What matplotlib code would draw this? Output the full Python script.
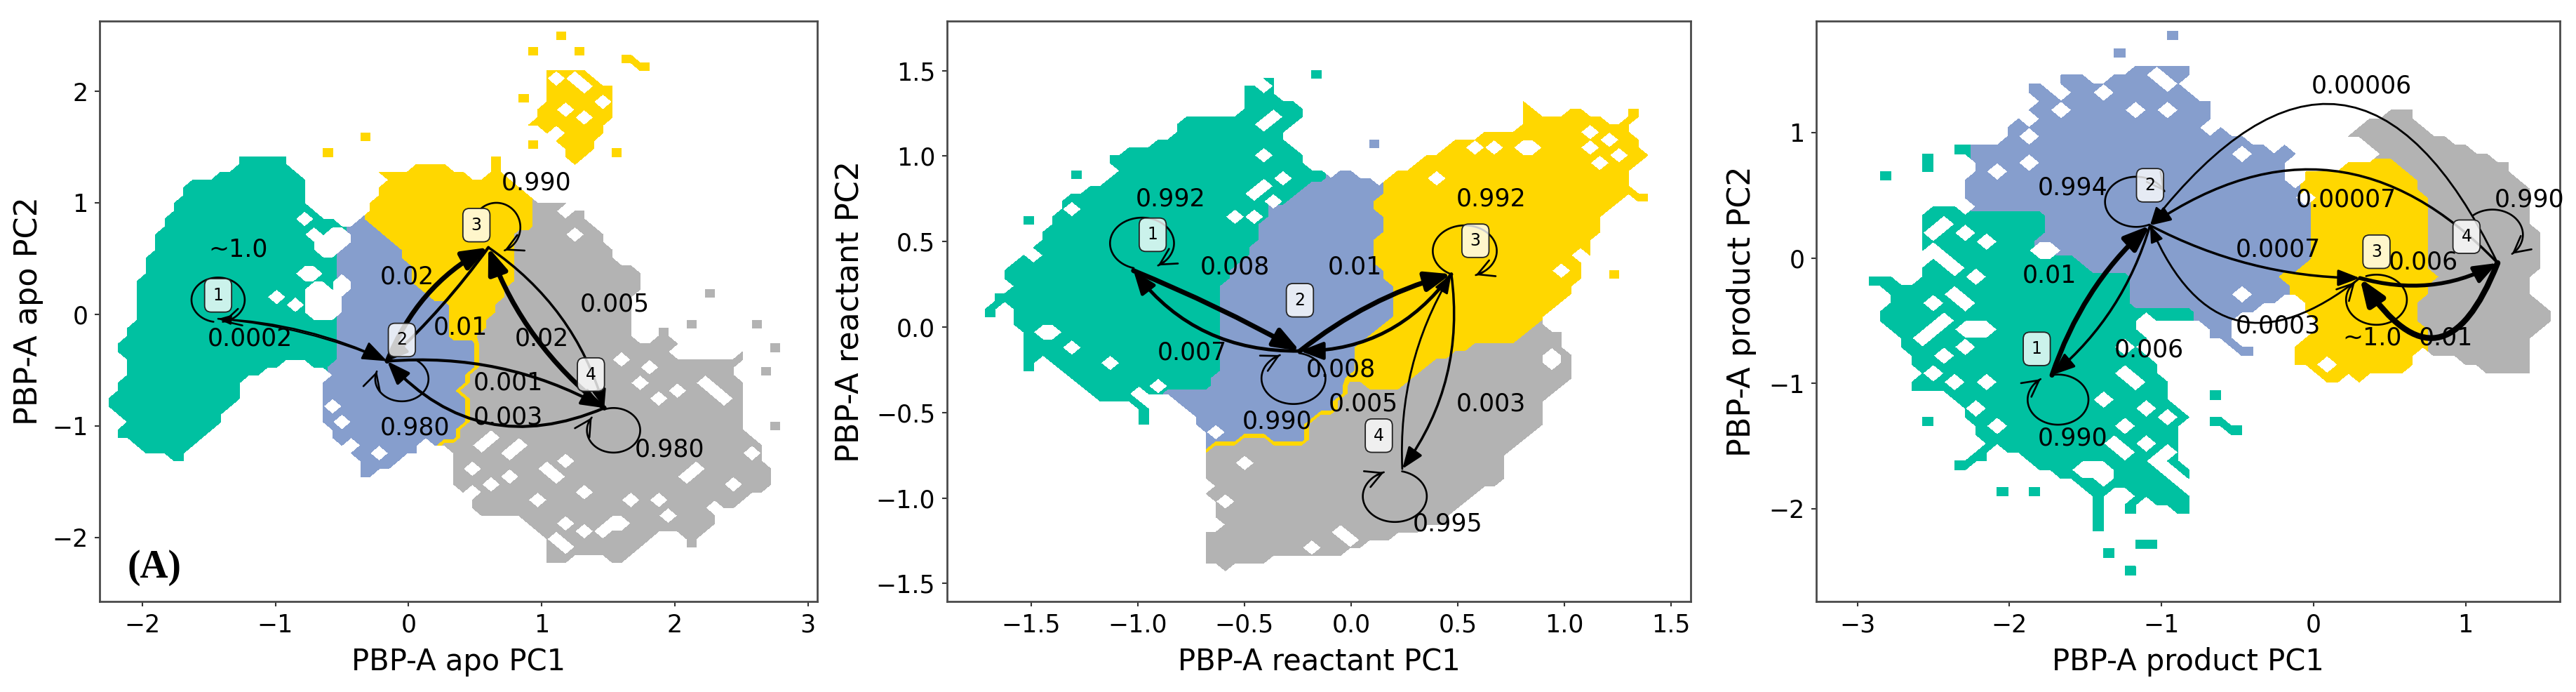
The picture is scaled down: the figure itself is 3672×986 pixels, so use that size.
import numpy as np
import matplotlib
matplotlib.use("Agg")
import matplotlib.pyplot as plt
from matplotlib.path import Path
from matplotlib.patches import FancyArrowPatch

W, H = 3673, 986
STATE_COLORS = ['#00c1a1', '#869ecd', '#ffd700', '#b3b3b3']
TOP, BOTTOM = 30, 857

# ---------- Panel A (apo) ----------
A_green = [(-1.71,-1.41),(-1.85,-1.29),(-2.08,-1.29),(-2.24,-1.14),(-2.16,-.98),(-2.27,-.8),(-2.16,-.5),(-2.2,-.23),(-2.1,-.07),(-2.06,.24),(-1.96,.6),(-1.85,.84),(-1.65,1.21),(-1.37,1.29),(-1.39,1.41),(-1.09,1.43),(-.91,1.45),(-.85,1.29),(-.73,1.15),(-.71,.95),(-.48,.84),(-.56,.55),(-.54,.3),(-.54,-.47),(-.68,-.57),(-.8,-.45),(-.95,-.5),(-1.09,-.52),(-1.29,-.82),(-1.45,-1.02),(-1.6,-1.2)]
A_blue = [(-.35,.875),(-.2,.7),(-.02,.6),(0,.36),(.2,.13),(.3,.09),(.32,-.23),(.5,-.23),(.52,-.35),(.5,-.5),(.38,-.66),(.46,-.84),(.4,-1.06),(.24,-1.18),(.16,-1.23),(.04,-1.25),(-.12,-1.37),(-.38,-1.51),(-.4,-1.33),(-.56,-1.18),(-.69,-.94),(-.65,-.62),(-.56,-.43),(-.54,.05),(-.48,.28),(-.56,.6),(-.48,.8)]
A_yellow = [(-.35,.915),(-.24,1.07),(-.2,1.23),(-.5,1.21),(-.32,1.31),(-.08,1.33),(.08,1.35),(.28,1.35),(.52,1.25),(.69,1.35),(.77,1.23),(.96,1.05),(.96,.78),(.77,.72),(.79,.36),(.69,.13),(.52,-.23),(.32,-.23),(.3,.09),(.2,.13),(0,.36),(-.02,.6),(-.2,.7)]
A_yellow2 = [(1.01,2.22),(1.21,2.24),(1.37,2.16),(1.57,2.02),(1.59,1.92),(1.49,1.66),(1.41,1.47),(1.25,1.31),(1.17,1.39),(1.13,1.51),(.85,1.72),(1.01,1.88),(1.01,2.06)]
A_gray = [(.97,1.05),(1.13,1.03),(1.33,.97),(1.41,.8),(1.61,.48),(1.78,.4),(1.77,.24),(1.69,.05),(1.71,-.27),(1.89,-.23),(2.13,-.27),(2.58,-.31),(2.5,-.43),(2.54,-.98),(2.66,-1.18),(2.78,-1.53),(2.58,-1.65),(2.34,-1.89),(2.18,-2.0),(1.85,-2.0),(1.57,-2.28),(1.37,-2.16),(1.05,-2.28),(1.01,-2.04),(.81,-1.81),(.56,-1.89),(.4,-1.65),(.26,-1.51),(.32,-1.25),(.24,-1.18),(.4,-1.06),(.46,-.84),(.38,-.66),(.5,-.5),(.52,-.35),(.5,-.23),(.69,.13),(.79,.36),(.77,.72),(.96,.78)]
A_blank = [[(-.76,.24),(-.58,.32),(-.55,-.05),(-.72,-.03)],[(-.66,.65),(-.45,.82),(-.5,.6),(-.62,.48)],[(1.85,-.28),(2.5,-.25),(2.45,-.36),(2.2,-.4)]]
A_holes = [(-.75,.88),(-.69,.74),(-.79,.36),(-.73,.4),(-.97,.16),(-.85,.09),(-.95,-.47),(-1.23,-.62),(-2.1,-1.2),(-2.16,-1.2),(-2.05,-1.23),(-1.33,1.37),
           (1.23,2.14),(1.09,2.1),(1.29,2.02),(1.45,1.94),(1.09,1.66),(.9,1.74),(1.21,1.82),(1.35,1.74),(1.05,1.55),
           (1.17,.92),(1.27,.74),(1.61,-.41),(1.79,-.49),(1.73,-.62),(2.04,-.68),(2.22,-.62),(2.28,-.68),(2.34,-.74),(1.88,-.76),(2.42,-1.53),(1.98,-1.81),(2.3,-1.77),(2.36,-1.83),(1.45,-1.93),(1.51,-1.89),(1.57,-1.85),(1.15,-1.33),(1.03,-1.39),(1.09,-1.45),(1.33,-1.57),(.73,-1.25),(.81,-1.18),(.65,-1.14),(.56,-1.21),(.48,-1.39),(.65,-1.53),(.77,-1.45),(.97,-1.65),(1.65,-1.65),(1.9,-1.69),(2.18,-1.37),(2.56,-1.27),(2.06,-1.49),(.48,-1.59),(1.17,-1.89),(1.29,-1.96),(1.09,-2.04),(1.21,-2.08),
           (-.6,-.85),(-.52,-.95),(-.44,-1.15),(-.2,-1.25),(.1,-1.2)]
A_islands = [(3,1.14,2.44),(3,1.27,2.34),(3,.91,2.3),(3,1.57,2.23),(3,1.73,2.18),(3,.81,1.87),(3,-.34,1.59),(3,-.65,1.4),(3,1.51,1.39),(3,.87,1.45),(3,.65,1.38),
             (4,2.26,.13),(4,2.06,-.13),(4,2.6,-.13),(4,2.7,-.35),(4,2.66,-.54),(4,2.7,-1.02),(4,1.03,-2.2),(4,2.06,-2.08),(4,1.9,-.2)]
A_nodes = {1:(-1.43,-.04),2:(-.16,-.42),3:(.6,.6),4:(1.47,-.84)}
A_arrows = [(1,2,-.1,1.9,1.0),(2,1,.08,1.6,.5),(2,3,-.18,5,1.0),(3,2,-.05,3,.8),(4,3,-.14,5,1.0),(3,4,-.18,2.5,.7),(2,4,-.15,3,.9),(4,2,-.35,3,.9)]
A_loops = [(-1.43,.13,.2,.2,-100,-440),(.66,.78,.18,.22,130,-70),(-.05,-.58,.2,.2,60,-200),(1.54,-1.04,.2,.2,110,-215)]
A_boxes = [(1,-1.43,.17),(2,-.05,-.23),(3,.51,.8),(4,1.37,-.54)]
A_labels = [('~1.0',-1.28,.58),('0.0002',-1.19,-.22),('0.02',-.01,.335),('0.01',.39,-.12),('0.990',.96,1.18),('0.005',1.55,.09),('0.02',1.0,-.22),('0.001',.75,-.615),('0.003',.75,-.92),('0.980',.05,-1.02),('0.980',1.96,-1.215)]

# ---------- Panel B (reactant) ----------
B_green = [(-1.67,.31),(-1.49,.47),(-1.39,.7),(-1.35,.77),(-1.11,.9),(-.93,1.08),(-.83,1.16),(-.8,1.26),(-.62,1.24),(-.51,1.29),(-.52,1.44),(-.36,1.47),(-.36,1.38),(-.23,1.31),(-.21,1.21),(-.3,1.13),(-.23,1.03),(-.2,.95),(-.07,.95),(-.15,.85),(-.23,.8),(-.36,.7),(-.42,.59),(-.44,.5),(-.59,.26),(-.62,.05),(-.59,-.2),(-.65,-.31),(-.7,-.38),(-.85,-.36),(-.93,-.41),(-1.04,-.46),(-1.11,-.47),(-1.22,-.41),(-1.35,-.28),(-1.53,-.1),(-1.63,.13),(-1.58,.23)]
B_blue = [(-.07,.94),(.03,.92),(.15,.86),(.12,.7),(.16,.57),(.1,.49),(.16,.26),(.21,.21),(.19,.05),(.01,-.13),(-.01,-.33),(-.09,-.5),(-.22,-.54),(-.22,-.67),(-.33,-.69),(-.46,-.63),(-.59,-.69),(-.72,-.73),(-.72,-.59),(-.8,-.47),(-.91,-.36),(-.7,-.38),(-.65,-.31),(-.59,-.2),(-.62,.05),(-.59,.26),(-.44,.5),(-.42,.59),(-.36,.7),(-.23,.8),(-.15,.85)]
B_yellow = [(.15,.86),(.19,.9),(.37,1.03),(.53,1.13),(.76,1.16),(.79,1.34),(.88,1.26),(.97,1.26),(1.07,1.29),(1.23,1.19),(1.31,1.21),(1.41,1.01),(1.31,.88),(1.33,.77),(1.2,.67),(1.15,.47),(1.1,.31),(.99,.11),(.89,.03),(.8,-.07),(.6,-.1),(.51,-.16),(.37,-.18),(.34,-.25),(.21,-.37),(-.01,-.33),(.01,-.13),(.19,.05),(.21,.21),(.16,.26),(.1,.49),(.16,.57),(.12,.7)]
B_gray = [(.21,-.37),(.34,-.25),(.37,-.18),(.51,-.16),(.6,-.1),(.8,-.07),(.89,.03),(.99,0),(1.02,-.13),(1.07,-.28),(.94,-.41),(.92,-.59),(.76,-.72),(.71,-.92),(.58,-1.0),(.45,-1.16),(.29,-1.21),(.08,-1.28),(-.05,-1.36),(-.33,-1.36),(-.57,-1.43),(-.72,-1.4),(-.7,-1.23),(-.65,-1.08),(-.72,-.9),(-.72,-.73),(-.59,-.69),(-.46,-.63),(-.33,-.69),(-.22,-.67),(-.22,-.54),(-.09,-.5),(-.01,-.33)]
B_blank = []
B_holes = [(-.42,1.4),(-.35,1.21),(-.42,1.17),(-.24,1.07),(-.42,1.0),(-.31,.88),(-.39,.81),(-.45,.76),(-.53,.66),(-.46,.66),(-.35,.74),(-1.3,.69),(-1.5,.43),(-1.41,-.01),(-1.45,-.05),(-1.3,-.14),(-1.12,-.2),(-.91,-.34),(-.98,-.41),
           (-.62,-.63),
           (.38,.85),(.6,1.03),(.69,1.03),(.79,1.07),(.86,1.07),(1.14,1.13),(1.2,1.1),(1.16,.94),(1.06,.4),(.99,.31),(1.14,1.03),(1.24,1.02),
           (-.49,-.79),(-.66,-.92),(-.59,-1.04),(-.63,-1.17),(-.2,-1.27),(.01,-1.23),(-.07,-1.21),(.94,-.2),(.92,-.15)]
B_islands = [(1,-1.53,.58),(1,-1.05,1.02),(1,-1.11,.98),(1,-1.32,.86),(1,-1.67,.13),(1,-1.71,.06),(1,-1.55,-.15),(1,-1.54,-.25),(1,-1.42,-.23),(1,-1.01,-.56),(1,-1.0,-.51),(1,-.2,1.47),
             (2,.08,1.06),(3,1.36,.74),(3,1.31,1.24),(3,1.19,.3)]
B_nodes = {1:(-1.02,.33),2:(-.24,-.14),3:(.47,.31),4:(.24,-.83)}
B_arrows = [(1,2,-.03,5,1.0),(2,1,-.25,3.5,.9),(2,3,-.1,5,1.0),(3,2,-.25,3.5,.9),(4,3,-.15,2,.75),(3,4,-.2,2.5,.85)]
B_loops = [(-.98,.49,.15,.15,-105,-420),(.533,.445,.15,.15,-113,-430),(-.27,-.3,.15,.15,80,-245),(.205,-.99,.15,.15,77,-250)]
B_boxes = [(1,-.93,.54),(2,-.24,.157),(3,.583,.505),(4,.13,-.635)]
B_labels = [('0.992',-.846,.75),('0.992',.656,.75),('0.008',-.546,.35),('0.01',.018,.35),('0.007',-.744,-.15),('0.008',-.047,-.25),('0.005',.057,-.448),('0.003',.656,-.448),('0.990',-.346,-.55),('0.995',.453,-1.15)]

# ---------- Panel C (product) ----------
C_blue = [(-2.36,.54),(-2.25,.68),(-2.27,.9),(-2.07,.96),(-1.89,1.2),(-1.71,1.38),(-1.64,1.5),(-1.33,1.45),(-1.2,1.53),(-.77,1.55),(-.84,1.39),(-.67,1.25),(-.67,1.13),(-.48,1.04),(-.46,.92),(-.19,.92),(-.06,.82),(-.15,.68),(-.02,.4),(-.03,.05),(-.06,-.09),(-.22,-.16),(-.11,-.34),(-.37,-.41),(-.51,-.51),(-.44,-.76),(-.66,-.69),(-.77,-.51),(-.91,-.34),(-1.2,-.48),(-1.6,0),(-2.2,.3)]
C_green = [(-2.36,.45),(-2.18,.33),(-2.07,.4),(-1.77,.34),(-1.82,.05),(-1.6,.05),(-1.49,-.09),(-1.26,-.09),(-1.17,-.2),(-1.22,-.44),(-.98,-.36),(-.73,-.44),(-.84,-.57),(-1.13,-.48),(-1.06,-.76),(-.98,-.94),(-.8,-1.25),(-.89,-1.46),(-.8,-1.67),(-.76,-1.99),(-.84,-2.09),(-1.13,-1.81),(-1.42,-1.92),(-1.6,-1.81),(-1.89,-1.67),(-2.11,-1.53),(-2.25,-1.46),(-2.36,-1.18),(-2.51,-1.11),(-2.69,-.76),(-2.87,-.48),(-2.76,-.2),(-2.58,-.13),(-2.62,.15),(-2.58,.4),(-2.44,.45)]
C_yellow = [(-.11,.66),(.03,.73),(.45,.82),(.58,.75),(.74,.47),(.76,.08),(.8,-.2),(.7,-.34),(.74,-.69),(.67,-.9),(.5,-.94),(.2,-1.04),(.05,-1.0),(-.06,-.76),(-.04,-.51),(-.11,-.34),(-.22,-.16),(-.06,-.09),(-.03,.05),(-.02,.4)]
C_gray = [(.45,.82),(.2,.97),(.47,1.2),(.69,1.2),(.72,1.06),(1.05,.89),(1.3,.75),(1.45,.5),(1.52,.05),(1.45,-.27),(1.61,-.43),(1.49,-.62),(1.45,-.94),(1.12,-.95),(.94,-.83),(.74,-.81),(.74,-.69),(.7,-.34),(.8,-.2),(.76,.08),(.74,.47),(.58,.75)]
C_blank = [[(-.95,-.95),(-.8,-.75),(-.85,-1.15),(-.95,-1.12)]]
C_holes = [(-2.46,.27),(-2.53,.22),(-2.38,-.06),(-2.44,-.02),(-2.49,.05),(-2.58,.01),(-2.26,.22),(-2.18,.15),(-2.22,-.16),(-2.36,-.27),(-2.29,-.34),(-2.49,-.37),(-2.22,-.55),(-2.27,-.55),(-2.16,-.55),(-2.4,-.48),(-2.51,-.55),(-2.56,-.65),(-2.29,-.74),(-2.47,-.9),(-2.4,-.8),(-2.15,-1.02),(-2.35,-1.02),(-2.24,-1.22),(-2.4,-1.15),(-2.11,-1.32),(-1.24,-.94),(-1.18,-.97),(-1.13,-.73),(-1.27,-.74),(-1.35,-1.15),(-1.26,-1.34),(-1.09,-1.18),(-.98,-1.29),(-1.31,-1.46),(-1.24,-1.53),(-1.11,-1.5),(-.98,-1.57),(-1.06,-1.64),(-1.93,-1.65),(-2.0,-1.62),(-1.49,-1.67),(-1.37,-1.72),(-1.35,-1.78),(-1.42,-1.72),(-.88,-1.74),(-.95,-1.71),(-.84,-1.85),(-1.2,-1.81),(-2.29,-1.32),
           (-1.69,1.34),(-1.46,1.43),(-1.4,1.32),(-1.64,1.2),(-1.15,1.18),(-.95,1.18),(-.97,1.36),(-1.02,1.45),(-1.86,1.14),(-1.89,.95),(-2.09,.72),(-1.89,.76),(-2.26,.44),(-.66,1.06),(-.53,1.03),(-.26,.87),(-.44,.85),(-.46,-.3),(-.17,-.36),(-.11,.75),
           (.09,-.88),(.2,-.97),(.87,-.83)]
C_islands = [(1,-2.6,.78),(1,-2.6,.72),(1,-2.38,.83),(1,-2.85,.6),(1,-2.87,-.23),(1,-2.66,-1.04),(1,-2.6,-1.32),(1,-2.07,-1.93),(1,-1.87,-1.93),(1,-1.46,-2.04),(1,-1.46,-2.18),(1,-1.26,-2.04),(1,-1.17,-1.92),(1,-1.04,-1.99),(1,-1.09,-2.32),(1,-1.18,-2.35),(1,-1.38,-2.41),(1,-1.26,-2.53),(1,-.57,-1.43),(1,-.68,-1.32),(1,-.68,-1.16),(1,-2.36,-1.69),(1,-2.24,-1.64),(1,-2.89,-.23),
             (2,-1.89,1.35),(2,-1.29,1.63),(2,-.97,1.77),(2,-.46,-.76),(3,-.15,-.8),(3,-.15,-.88),(4,.44,.9)]
C_nodes = {1:(-1.72,-.935),2:(-1.075,.26),3:(.305,-.16),4:(1.21,-.04)}
C_arrows = [(1,2,-.13,5,1.0),(2,1,-.15,2.5,.9),(4,2,.8,2,.7),(4,2,.42,2.5,.8),(2,3,.12,2.5,.85),(3,2,-.65,2,.65),(3,4,.2,4,.9),(4,3,-.95,6,1.0)]
C_loops = [(-1.68,-1.13,.2,.2,100,-235),(-1.166,.448,.205,.2,-65,-335),(.414,-.333,.2,.2,110,-225),(1.177,.186,.2,.2,130,-50)]
C_boxes = [(1,-1.82,-.725),(2,-1.075,.58),(3,.414,.05),(4,1.006,.17)]
C_labels = [('0.00006',.316,1.37),('0.994',-1.584,.56),('0.00007',.214,.466),('0.990',1.42,.466),('0.0007',-.232,.07),('0.006',.723,-.035),('0.01',-1.736,-.137),('0.0003',-.232,-.54),('~1.0',.385,-.637),('0.01',.868,-.637),('0.006',-1.082,-.735),('0.990',-1.584,-1.436)]

PANELS = [
 dict(px=(142,1165), xlim=(-2.32,3.07), ylim=(-2.575,2.63), step=.07, xt=[-2,-1,0,1,2,3], yt=[-2,-1,0,1,2],
      xfmt='{:g}', yfmt='{:g}', xl='PBP-A apo PC1', yl='PBP-A apo PC2', ylx=-.099,
      regions=[(1,A_green),(2,A_blue),(3,A_yellow),(3,A_yellow2),(4,A_gray)], blank=A_blank, holes=A_holes, islands=A_islands,
      nodes=A_nodes, arrows=A_arrows, loops=A_loops, boxes=A_boxes, labels=A_labels),
 dict(px=(1350,2410), xlim=(-1.894,1.592), ylim=(-1.605,1.79), step=.045, xt=[-1.5,-1,-.5,0,.5,1,1.5], yt=[-1.5,-1,-.5,0,.5,1,1.5],
      xfmt='{:.1f}', yfmt='{:.1f}', xl='PBP-A reactant PC1', yl='PBP-A reactant PC2', ylx=-.13,
      regions=[(1,B_green),(2,B_blue),(3,B_yellow),(4,B_gray)], blank=B_blank, holes=B_holes, islands=B_islands,
      nodes=B_nodes, arrows=B_arrows, loops=B_loops, boxes=B_boxes, labels=B_labels),
 dict(px=(2589,3649), xlim=(-3.27,1.62), ylim=(-2.74,1.89), step=.07, xt=[-3,-2,-1,0,1], yt=[-2,-1,0,1],
      xfmt='{:g}', yfmt='{:g}', xl='PBP-A product PC1', yl='PBP-A product PC2', ylx=-.10,
      regions=[(2,C_blue),(1,C_green),(3,C_yellow),(4,C_gray)], blank=C_blank, holes=C_holes, islands=C_islands,
      nodes=C_nodes, arrows=C_arrows, loops=C_loops, boxes=C_boxes, labels=C_labels),
]

def build_grid(p):
    xs = np.arange(p['xlim'][0], p['xlim'][1], p['step'])
    ys = np.arange(p['ylim'][0], p['ylim'][1], p['step'])
    X, Y = np.meshgrid(xs, ys)
    pts = np.c_[X.ravel(), Y.ravel()]
    Z = np.zeros(X.shape)
    for state, poly in p['regions']:
        Z[Path(poly + [poly[0]]).contains_points(pts).reshape(X.shape)] = state
    for poly in p['blank']:
        Z[Path(poly + [poly[0]]).contains_points(pts).reshape(X.shape)] = 0
    def idx(x, y):
        return int(round((y - ys[0]) / p['step'])), int(round((x - xs[0]) / p['step']))
    for x, y in p['holes']:
        i, j = idx(x, y)
        Z[i, j] = 0
    for s, x, y in p['islands']:
        i, j = idx(x, y)
        Z[i:i+2, j:j+2] = s
    return X, Y, np.ma.masked_where(Z == 0, Z)

fig = plt.figure(figsize=(W/100, H/100), dpi=100)
plt.rcParams['font.family'] = 'DejaVu Sans'
for p in PANELS:
    l, r = p['px']
    ax = fig.add_axes([l/W, (H-BOTTOM)/H, (r-l)/W, (BOTTOM-TOP)/H])
    X, Y, Z = build_grid(p)
    ax.contourf(X, Y, Z, levels=[.5,1.5,2.5,3.5,4.5], colors=STATE_COLORS, corner_mask=True, zorder=1)
    ax.set_xlim(p['xlim']); ax.set_ylim(p['ylim'])
    ax.set_xticks(p['xt']); ax.set_yticks(p['yt'])
    ax.set_xticklabels([p['xfmt'].format(v).replace('-', '\u2212') for v in p['xt']])
    ax.set_yticklabels([p['yfmt'].format(v).replace('-', '\u2212') for v in p['yt']])
    ax.tick_params(labelsize=25, length=5, width=1.5, color='#333333', pad=7)
    for s in ax.spines.values():
        s.set_linewidth(2); s.set_color('#4a4a4a')
    ax.set_xlabel(p['xl'], fontsize=30)
    ax.xaxis.set_label_coords(.5, -.104)
    ax.xaxis.label.set_va('center')
    ax.set_ylabel(p['yl'], fontsize=32)
    ax.yaxis.set_label_coords(p['ylx'], .5)
    ax.yaxis.label.set_va('center')
    nodes = p['nodes']
    for a, b, rad, lw, hs in p['arrows']:
        ax.add_patch(FancyArrowPatch(nodes[a], nodes[b], connectionstyle=f'arc3,rad={rad}',
                     arrowstyle='-|>,head_length=1,head_width=.38', mutation_scale=22*hs,
                     lw=lw, color='black', shrinkA=0, shrinkB=0, zorder=3))
    for cx, cy, rx, ry, t0, t1 in p['loops']:
        t = np.radians(np.linspace(t0, t1, 90))
        lx, ly = cx + rx*np.cos(t), cy + ry*np.sin(t)
        ax.plot(lx, ly, color='black', lw=1.9, zorder=3, solid_capstyle='round')
        ax.add_patch(FancyArrowPatch((lx[-5], ly[-5]), (lx[-1], ly[-1]),
                     arrowstyle='->,head_length=.75,head_width=.4', mutation_scale=22,
                     lw=1.9, color='black', shrinkA=0, shrinkB=0, zorder=3))
    for n, x, y in p['boxes']:
        ax.text(x, y, str(n), fontsize=17, ha='center', va='center', zorder=5,
                bbox=dict(boxstyle='round,pad=.5,rounding_size=.4', fc=(1,1,1,.8), ec='#222222', lw=1.3))
    for s, x, y in p['labels']:
        ax.text(x, y, s, fontsize=25, ha='center', va='center', zorder=4)
    if p is PANELS[0]:
        ax.text(-1.91, -2.27, '(A)', fontsize=40, family='Liberation Serif', weight='bold', ha='center', va='center', zorder=5)

fig.savefig('out.png', dpi=100)
